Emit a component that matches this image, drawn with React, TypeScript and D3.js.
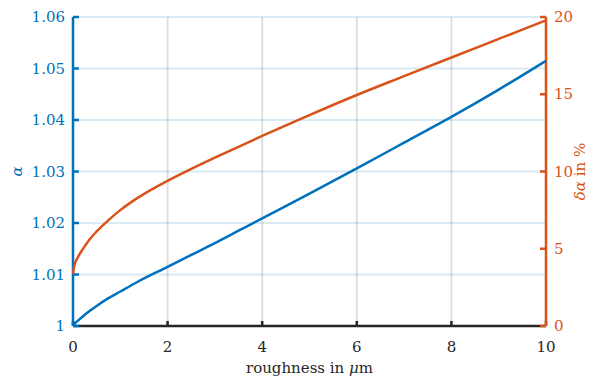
import { FC, useEffect, useRef } from 'react';
import * as d3 from 'd3';

// roughness in µm
const roughness = [0, 0.02, 0.1, 0.2, 0.35, 0.5, 0.75, 1, 1.35, 2, 2.5, 3, 3.5, 4, 5, 6, 7, 8, 9, 10];
// alpha (left axis)
const alpha = [1.0, 1.0003, 1.001, 1.0018, 1.0029, 1.0039, 1.0054, 1.0067, 1.0085, 1.0115, 1.0138, 1.0161, 1.0185, 1.0209, 1.0257, 1.0306, 1.0356, 1.0406, 1.0459, 1.0515];
// delta alpha in % (right axis)
const deltaAlpha = [3.37, 3.81, 4.43, 4.94, 5.6, 6.12, 6.85, 7.5, 8.26, 9.4, 10.17, 10.9, 11.6, 12.3, 13.65, 14.95, 16.17, 17.38, 18.58, 19.78];

const xTicks = [0, 2, 4, 6, 8, 10];
const leftTicks = [1, 1.01, 1.02, 1.03, 1.04, 1.05, 1.06];
const rightTicks = [0, 5, 10, 15, 20];

const BLUE = '#0072BD';
const ORANGE = '#D95319';
const DARK = '#262626';
const FONT = '"DejaVu Serif", serif';

const App: FC = () => {
  const svgRef = useRef<SVGSVGElement>(null);

  useEffect(() => {
    if (!svgRef.current) return;
    const svg = d3.select(svgRef.current);
    svg.selectAll('*').remove();

    const left = 73, right = 546, top = 17, bottom = 326;

    const x = d3.scaleLinear().domain([0, 10]).range([left, right]);
    const yL = d3.scaleLinear().domain([1, 1.06]).range([bottom, top]);
    const yR = d3.scaleLinear().domain([0, 20]).range([bottom, top]);

    const txt = (sel: d3.Selection<SVGTextElement, any, any, any>) =>
      sel.style('font-family', FONT).style('font-size', '15px');

    // vertical grid
    svg.append('g')
      .selectAll('line')
      .data(xTicks.filter(t => t > 0 && t < 10))
      .enter()
      .append('line')
      .attr('x1', d => x(d)).attr('x2', d => x(d))
      .attr('y1', top).attr('y2', bottom)
      .attr('stroke', DARK).attr('stroke-opacity', 0.15).attr('stroke-width', 2);

    // horizontal grid (left axis)
    svg.append('g')
      .selectAll('line')
      .data(leftTicks.filter(t => t > 1))
      .enter()
      .append('line')
      .attr('x1', left).attr('x2', right)
      .attr('y1', d => yL(d)).attr('y2', d => yL(d))
      .attr('stroke', BLUE).attr('stroke-opacity', 0.15).attr('stroke-width', 2);

    // bottom axis
    svg.append('line')
      .attr('x1', left).attr('x2', right)
      .attr('y1', bottom).attr('y2', bottom)
      .attr('stroke', DARK).attr('stroke-width', 2.5);
    svg.append('g')
      .selectAll('line')
      .data(xTicks)
      .enter()
      .append('line')
      .attr('x1', d => x(d)).attr('x2', d => x(d))
      .attr('y1', bottom).attr('y2', bottom - 5)
      .attr('stroke', DARK).attr('stroke-width', 2.5);
    svg.append('g')
      .selectAll('text')
      .data(xTicks)
      .enter()
      .append('text')
      .attr('x', d => x(d)).attr('y', bottom + 26)
      .attr('text-anchor', 'middle')
      .attr('fill', DARK)
      .call(txt)
      .text(d => String(d));

    const xl = svg.append('text')
      .attr('x', (left + right) / 2).attr('y', 373)
      .attr('text-anchor', 'middle')
      .attr('fill', DARK)
      .call(txt);
    xl.append('tspan').text('roughness in ');
    xl.append('tspan').attr('font-style', 'italic').text('μ');
    xl.append('tspan').text('m');

    // left axis
    svg.append('line')
      .attr('x1', left).attr('x2', left)
      .attr('y1', top).attr('y2', bottom)
      .attr('stroke', BLUE).attr('stroke-width', 2.5);
    svg.append('g')
      .selectAll('line')
      .data(leftTicks)
      .enter()
      .append('line')
      .attr('x1', left).attr('x2', left + 6)
      .attr('y1', d => yL(d)).attr('y2', d => yL(d))
      .attr('stroke', BLUE).attr('stroke-width', 2.5);
    svg.append('g')
      .selectAll('text')
      .data(leftTicks)
      .enter()
      .append('text')
      .attr('x', left - 8).attr('y', d => yL(d) + 5)
      .attr('text-anchor', 'end')
      .attr('fill', BLUE)
      .call(txt)
      .text(d => (d === 1 ? '1' : d.toFixed(2)));
    svg.append('text')
      .attr('transform', `translate(22,${yL(1.03)}) rotate(-90)`)
      .attr('text-anchor', 'middle')
      .attr('font-style', 'italic')
      .attr('fill', BLUE)
      .call(txt)
      .text('α');

    // right axis
    svg.append('line')
      .attr('x1', right).attr('x2', right)
      .attr('y1', top).attr('y2', bottom)
      .attr('stroke', ORANGE).attr('stroke-width', 2.5);
    svg.append('g')
      .selectAll('line')
      .data(rightTicks)
      .enter()
      .append('line')
      .attr('x1', right).attr('x2', right - 6)
      .attr('y1', d => yR(d)).attr('y2', d => yR(d))
      .attr('stroke', ORANGE).attr('stroke-width', 2.5);
    svg.append('g')
      .selectAll('text')
      .data(rightTicks)
      .enter()
      .append('text')
      .attr('x', right + 8).attr('y', d => yR(d) + 5)
      .attr('text-anchor', 'start')
      .attr('fill', ORANGE)
      .call(txt)
      .text(d => String(d));
    const rl = svg.append('text')
      .attr('transform', `translate(585,${yR(10)}) rotate(-90)`)
      .attr('text-anchor', 'middle')
      .attr('fill', ORANGE)
      .call(txt);
    rl.append('tspan').attr('font-style', 'italic').text('δα');
    rl.append('tspan').text(' in %');

    // data lines
    const pts = roughness.map((r, i) => ({ r, a: alpha[i], d: deltaAlpha[i] }));
    const lineA = d3.line<{ r: number; a: number; d: number }>()
      .x(p => x(p.r)).y(p => yL(p.a)).curve(d3.curveMonotoneX);
    const lineD = d3.line<{ r: number; a: number; d: number }>()
      .x(p => x(p.r)).y(p => yR(p.d)).curve(d3.curveMonotoneX);

    svg.append('path').datum(pts)
      .attr('fill', 'none').attr('stroke', BLUE).attr('stroke-width', 2.5)
      .attr('d', lineA);
    svg.append('path').datum(pts)
      .attr('fill', 'none').attr('stroke', ORANGE).attr('stroke-width', 2.5)
      .attr('d', lineD);
  }, []);

  return (
    <svg
      ref={svgRef}
      width={605}
      height={377}
      style={{ position: 'absolute', left: 0, top: 0, background: '#fff' }}
    />
  );
};

export default App;
